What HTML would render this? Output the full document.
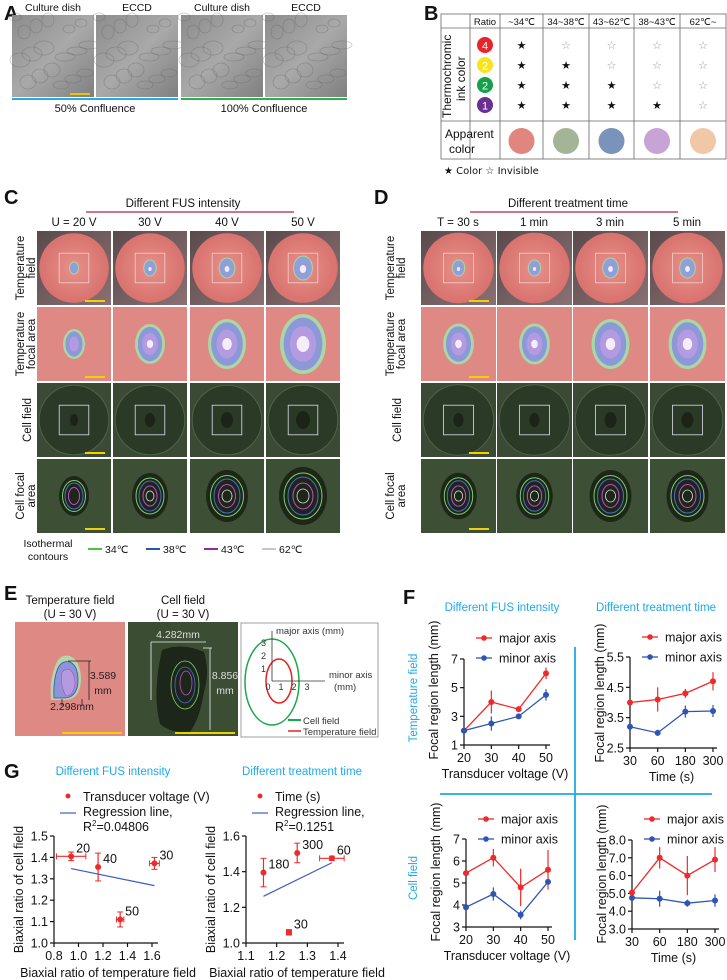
<!DOCTYPE html>
<html><head><meta charset="utf-8"><style>
body{margin:0;background:#fff;}
svg{display:block;font-family:"Liberation Sans",Arial,sans-serif;}
</style></head><body>
<svg id="fig" width="727" height="980" viewBox="0 0 727 980" xmlns="http://www.w3.org/2000/svg">
<defs>
<radialGradient id="dishT" cx="50%" cy="50%" r="50%"><stop offset="0" stop-color="#e8908a"/><stop offset="1" stop-color="#d8726e"/></radialGradient>
<linearGradient id="bgT" x1="0" y1="0" x2="1" y2="1"><stop offset="0" stop-color="#5a4a4c"/><stop offset="1" stop-color="#8a7072"/></linearGradient>
<linearGradient id="micro" x1="0" y1="0" x2="1" y2="1"><stop offset="0" stop-color="#8c8c8c"/><stop offset="0.5" stop-color="#a9a9a9"/><stop offset="1" stop-color="#7f7f7f"/></linearGradient>
</defs>
<g id="root"></g>
</svg>
<script>
const NS='http://www.w3.org/2000/svg';
const root=document.getElementById('root');
function el(tag,attrs,parent){const e=document.createElementNS(NS,tag);for(const k in attrs)e.setAttribute(k,attrs[k]);(parent||root).appendChild(e);return e;}
function tx(x,y,s,size,opts,parent){const o=Object.assign({x:x,y:y,'font-size':size,fill:'#111'},opts||{});const t=el('text',o,parent);t.textContent=s;return t;}
function lbl(x,y,s){const t=tx(x,y,s,20,{'font-weight':'bold'});

}
lbl(4,20,'A');lbl(424,20,'B');lbl(4,204,'C');lbl(374,204,'D');lbl(4,600,'E');lbl(403,604,'F');lbl(4,778,'G');

// ===== Panel A
const aTitles=['Culture dish','ECCD','Culture dish','ECCD'];
const aX=[12,96,181,265];
aTitles.forEach((s,i)=>{
const r=el('rect',{x:aX[i],y:15,width:82,height:82,fill:'url(#micro)'});


for(let k=0;k<18;k++){el('ellipse',{cx:aX[i]+((k*37)%78)+3,cy:17+((k*53)%78),rx:6+(k%3)*2,ry:4+(k%2)*3,fill:'none',stroke:'#5f5f5f','stroke-width':0.8,opacity:0.35});}
const t=tx(aX[i]+41,11,s,10.5,{'text-anchor':'middle'});


});
el('line',{x1:70,y1:94,x2:90,y2:94,stroke:'#e8c21c','stroke-width':2});
let ln=el('line',{x1:12,y1:99,x2:178,y2:99,stroke:'#27a9e1','stroke-width':2});


ln=el('line',{x1:181,y1:99,x2:347,y2:99,stroke:'#2bb34b','stroke-width':2});


let t0=tx(95,112,'50% Confluence',11,{'text-anchor':'middle'});


t0=tx(264,112,'100% Confluence',11,{'text-anchor':'middle'});



// ===== Panel B table
const bCols=[441,470,500,543,589,634,680,726];
const bHeads=['Ratio','~34℃','34~38℃','43~62℃','38~43℃','62℃~'];
const tb=el('g',{});


el('rect',{x:441,y:14,width:285,height:145,fill:'none',stroke:'#666','stroke-width':0.8},tb);
el('line',{x1:441,y1:28,x2:726,y2:28,stroke:'#666','stroke-width':0.8},tb);
el('line',{x1:441,y1:121,x2:726,y2:121,stroke:'#666','stroke-width':0.8},tb);
bCols.slice(1,-1).forEach(x=>el('line',{x1:x,y1:14,x2:x,y2:159,stroke:'#666','stroke-width':0.8},tb));
bHeads.forEach((h,i)=>{const t=tx((bCols[i+1]+bCols[i+2])/2,25,h,9.5,{'text-anchor':'middle'},tb);

});
const inkColors=['#e8232a','#f7e419','#16a04a','#6a2f91'];
const inkNums=['4','2','2','1'];
const starRows=[[1,0,0,0,0],[1,1,0,0,0],[1,1,1,0,0],[1,1,1,1,0]];
inkColors.forEach((c,r)=>{const y=45+r*20;
const ci=el('circle',{cx:485,cy:y,r:8,fill:c},tb);


tx(485,y+4.5,inkNums[r],11,{'text-anchor':'middle',fill:'#fff'},tb);
starRows[r].forEach((s,k)=>{const t=tx((bCols[k+2]+bCols[k+3])/2,y+4,s?'★':'☆',11,{'text-anchor':'middle',fill:s?'#111':'#999',"font-family":"DejaVu Sans"},tb);

});
});
const ty=tx(0,0,'Thermochromic',12,{transform:'translate(451,118) rotate(-90)'},tb);


tx(0,0,'ink color',12,{transform:'translate(465,101) rotate(-90)'},tb);
tx(445,138,'Apparent',12,{},tb);tx(449,153,'color',12,{},tb);
const appCols=['#e0867f','#a4b597','#7a93ba','#c8a3d6','#f0c8a8'];
appCols.forEach((c,k)=>{const ci=el('circle',{cx:(bCols[k+2]+bCols[k+3])/2,cy:141,r:13,fill:c},tb);

});
let lg=tx(444,174,'★ Color  ☆ Invisible',10,{"font-family":"DejaVu Sans"});



// ===== Panels C & D image grids
function photo(x,y,w,h,row,level,blob){
const g=el('g',{});


const cx=x+w/2, cy=y+h/2;
if(row===0){el('rect',{x:x,y:y,width:w,height:h,fill:'url(#bgT)'},g);
el('circle',{cx:cx,cy:cy,r:w*0.47,fill:'url(#dishT)'},g);
el('rect',{x:cx-w*0.2,y:cy-h*0.2,width:w*0.4,height:h*0.4,fill:'none',stroke:'#f2d0cc','stroke-width':0.8},g);
el('ellipse',{cx:cx,cy:cy,rx:3+level*1.6,ry:4+level*2,fill:'#8fa0d8',stroke:'#a8d8a0','stroke-width':1},g);
if(level>1)el('ellipse',{cx:cx,cy:cy+1,rx:level*0.8,ry:level,fill:'#f2eaf6'},g);}
else if(row===1){el('rect',{x:x,y:y,width:w,height:h,fill:'#df8985'},g);
const s=blob;el('ellipse',{cx:cx,cy:cy,rx:7+s*4,ry:10+s*5,fill:'#a9d7a5'},g);
el('ellipse',{cx:cx,cy:cy,rx:5+s*3.6,ry:8+s*4.6,fill:'#8d98d8'},g);
el('ellipse',{cx:cx,cy:cy,rx:2+s*2.8,ry:4+s*3.5,fill:'#b49ae0'},g);
if(s>1)el('ellipse',{cx:cx,cy:cy,rx:s*1.6,ry:s*2,fill:'#f5eef8'},g);}
else if(row===2){el('rect',{x:x,y:y,width:w,height:h,fill:'#3a4a34'},g);
el('circle',{cx:cx,cy:cy,r:w*0.47,fill:'#2b3a27',stroke:'#4f6248','stroke-width':1},g);
el('rect',{x:cx-w*0.2,y:cy-h*0.2,width:w*0.4,height:h*0.4,fill:'none',stroke:'#dde','stroke-width':0.8},g);
el('ellipse',{cx:cx,cy:cy,rx:3+level,ry:5+level,fill:'#1c2418'},g);}
else{el('rect',{x:x,y:y,width:w,height:h,fill:'#3d5036'},g);
const s=blob;el('ellipse',{cx:cx,cy:cy,rx:12+s*3,ry:17+s*3,fill:'#1d2619'},g);
el('ellipse',{cx:cx,cy:cy,rx:9+s*2.5,ry:13+s*2.5,fill:'none',stroke:'#7ad06a','stroke-width':1},g);
el('ellipse',{cx:cx,cy:cy,rx:7+s*2,ry:11+s*2,fill:'none',stroke:'#4e6cc8','stroke-width':1},g);
el('ellipse',{cx:cx,cy:cy,rx:4+s*1.5,ry:7+s*1.5,fill:'none',stroke:'#c04ed0','stroke-width':1},g);
if(s>1)el('ellipse',{cx:cx,cy:cy,rx:2+s,ry:3+s,fill:'none',stroke:'#ddd','stroke-width':0.8},g);}
}
const rowY=[231,307,383,459];
const cX=[37,113,190,266], dX=[421,497,573,650];
const cLevels=[1,2,3,4], dLevels=[2,2,3,3];
for(let r=0;r<4;r++){for(let i=0;i<4;i++){photo(cX[i],rowY[r],74,74,r,cLevels[i],cLevels[i]);photo(dX[i],rowY[r],75,74,r,dLevels[i],dLevels[i]*0.9+0.3);}
el('line',{x1:cX[0]+48,y1:rowY[r]+70,x2:cX[0]+68,y2:rowY[r]+70,stroke:'#f0d000','stroke-width':2});
el('line',{x1:dX[0]+48,y1:rowY[r]+70,x2:dX[0]+68,y2:rowY[r]+70,stroke:'#f0d000','stroke-width':2});}
let h1=tx(183,207,'Different FUS intensity',11.5,{'text-anchor':'middle'});


el('line',{x1:86,y1:212,x2:294,y2:212,stroke:'#b51f5b','stroke-width':1.2});
h1=tx(568,207,'Different treatment time',11.5,{'text-anchor':'middle'});


el('line',{x1:470,y1:212,x2:678,y2:212,stroke:'#b51f5b','stroke-width':1.2});
const cHead=['U = 20 V','30 V','40 V','50 V'], dHead=['T = 30 s','1 min','3 min','5 min'];
cHead.forEach((s,i)=>{const t=tx(cX[i]+37,226,s,11.5,{'text-anchor':'middle'});

});
dHead.forEach((s,i)=>{const t=tx(dX[i]+37,226,s,11.5,{'text-anchor':'middle'});

});
const rowLab=[['Temperature','field'],['Temperature','focal area'],['Cell field',''],['Cell focal','area']];
[[20,33],[390,403]].forEach(([x1,x2])=>{rowLab.forEach((p,r)=>{const cy=rowY[r]+37;
const t=tx(0,0,p[0],11.5,{'text-anchor':'middle',transform:`translate(${p[1]?x1+4:x2-2},${cy}) rotate(-90)`});


if(p[1])tx(0,0,p[1],11.5,{'text-anchor':'middle',transform:`translate(${x2+2},${cy}) rotate(-90)`});});});
tx(48,547,'Isothermal',10.5,{'text-anchor':'middle'});tx(48,560,'contours',10.5,{'text-anchor':'middle'});
const isoC=['#4cc24a','#2359a8','#8a2ea0','#c8c8c8'], isoL=['34℃','38℃','43℃','62℃'];
isoC.forEach((c,i)=>{const x=88+i*58;
const l=el('line',{x1:x,y1:549,x2:x+14,y2:549,stroke:c,'stroke-width':2});


tx(x+17,553,isoL[i],10.5);});

// ===== Panel E
tx(70,604,'Temperature field',11.5,{'text-anchor':'middle'});tx(70,618,'(U = 30 V)',11.5,{'text-anchor':'middle'});
tx(183,604,'Cell field',11.5,{'text-anchor':'middle'});tx(183,618,'(U = 30 V)',11.5,{'text-anchor':'middle'});
let ge=el('g',{});


el('rect',{x:15,y:622,width:110,height:114,fill:'#df8985'},ge);
el('path',{d:'M56,664 q4,-10 14,-8 q10,4 11,22 q0,20 -14,22 l-16,0 q-2,-20 5,-36z',fill:'#b5d7a8'},ge);
el('path',{d:'M58,668 q4,-8 12,-6 q8,4 8,18 q0,16 -12,18 l-12,0 q-1,-18 4,-30z',fill:'#8e94d8',stroke:'#3a4fb0','stroke-width':0.8},ge);
el('path',{d:'M62,672 q4,-4 8,-2 q5,4 5,14 q-2,12 -9,12 q-6,-10 -4,-24z',fill:'#b49ae0',stroke:'#b44ac0','stroke-width':0.6},ge);
el('line',{x1:68,y1:661,x2:91,y2:661,stroke:'#222','stroke-width':0.8});el('line',{x1:89,y1:661,x2:89,y2:700,stroke:'#222','stroke-width':0.8});
tx(103,679,'3.589',10.5,{'text-anchor':'middle',fill:'#222'});tx(103,694,'mm',10.5,{'text-anchor':'middle',fill:'#222'});
tx(72,710,'2.298mm',10.5,{'text-anchor':'middle',fill:'#222'});
el('line',{x1:62,y1:699,x2:62,y2:706,stroke:'#222','stroke-width':0.8});el('line',{x1:82,y1:699,x2:82,y2:706,stroke:'#222','stroke-width':0.8});
el('line',{x1:62,y1:733,x2:122,y2:733,stroke:'#f0d000','stroke-width':2});
ge=el('g',{});


el('rect',{x:128,y:622,width:110,height:114,fill:'#3b4e34'},ge);
el('path',{d:'M162,650 q20,-8 42,2 q6,20 0,40 q-4,26 -14,40 q-18,2 -30,-8 q-8,-30 2,-74z',fill:'#1c2619'},ge);
el('ellipse',{cx:185,cy:685,rx:14,ry:24,fill:'none',stroke:'#7ad06a','stroke-width':0.8},ge);
el('ellipse',{cx:185,cy:685,rx:10,ry:18,fill:'none',stroke:'#4e6cc8','stroke-width':0.8},ge);
el('ellipse',{cx:186,cy:683,rx:6,ry:12,fill:'none',stroke:'#c04ed0','stroke-width':0.8},ge);
el('line',{x1:151,y1:642,x2:206,y2:642,stroke:'#eee','stroke-width':0.8});el('line',{x1:151,y1:642,x2:151,y2:700,stroke:'#eee','stroke-width':0.8});
el('line',{x1:203,y1:648,x2:212,y2:648,stroke:'#eee','stroke-width':0.8});el('line',{x1:210,y1:648,x2:210,y2:730,stroke:'#eee','stroke-width':0.8});
tx(178,638,'4.282mm',10.5,{'text-anchor':'middle',fill:'#ddd'});
tx(225,679,'8.856',10.5,{'text-anchor':'middle',fill:'#ddd'});tx(225,694,'mm',10.5,{'text-anchor':'middle',fill:'#ddd'});
el('line',{x1:175,y1:733,x2:235,y2:733,stroke:'#f0d000','stroke-width':2});
ge=el('g',{});


el('rect',{x:241,y:623,width:137,height:114,fill:'#fff',stroke:'#888','stroke-width':0.8},ge);
el('ellipse',{cx:272,cy:682,rx:27,ry:43,fill:'none',stroke:'#1aa84a','stroke-width':1.5},ge);
el('ellipse',{cx:279,cy:681,rx:13,ry:22,fill:'none',stroke:'#e82020','stroke-width':1.5},ge);
el('line',{x1:272,y1:681,x2:325,y2:681,stroke:'#333','stroke-width':0.8},ge);el('line',{x1:272,y1:681,x2:272,y2:631,stroke:'#333','stroke-width':0.8},ge);
tx(276,634,'major axis (mm)',9.5,{fill:'#333'},ge);
tx(329,678,'minor axis',9.5,{fill:'#333'},ge);tx(334,690,'(mm)',9.5,{fill:'#333'},ge);
['0','1','2','3'].forEach((s,i)=>{tx(268+i*13,690,s,9,{'text-anchor':'middle',fill:'#333'},ge);if(i>0)tx(266,681-i*13+4,s,9,{'text-anchor':'end',fill:'#333'},ge);});
el('line',{x1:288,y1:720,x2:301,y2:720,stroke:'#1aa84a','stroke-width':2},ge);tx(303,724,'Cell field',9.5,{fill:'#333'},ge);
el('line',{x1:288,y1:731,x2:301,y2:731,stroke:'#e82020','stroke-width':1.5},ge);tx(303,735,'Temperature field',9.5,{fill:'#333'},ge);
</script>

<script>
// ===== Panel F data
const fVoltCats=['20','30','40','50'];
const fTimeCats=['30','60','180','300'];
const tVoltMajor=[2.0,4.0,3.5,6.0];
const tVoltMajorErr=[0.1,0.8,0.1,0.4];
const tVoltMinor=[2.0,2.5,3.0,4.5];
const tVoltMinorErr=[0.1,0.5,0.1,0.4];
const tTimeMajor=[4.0,4.1,4.3,4.7];
const tTimeMajorErr=[0.05,0.4,0.15,0.3];
const tTimeMinor=[3.2,3.0,3.7,3.72];
const tTimeMinorErr=[0.05,0.1,0.2,0.2];
const cVoltMajor=[5.45,6.15,4.8,5.6];
const cVoltMajorErr=[0.1,0.4,0.85,0.9];
const cVoltMinor=[3.9,4.5,3.55,5.05];
const cVoltMinorErr=[0.1,0.3,0.2,0.1];
const cTimeMajor=[5.05,7.0,6.0,6.9];
const cTimeMajorErr=[0.1,0.6,1.1,0.7];
const cTimeMinor=[4.75,4.7,4.45,4.6];
const cTimeMinorErr=[0.1,0.45,0.2,0.35];
const tVoltTicks=[1,3,5,7], tVoltTickLabels=['1','3','5','7'];
const tTimeTicks=[2.5,3.5,4.5,5.5], tTimeTickLabels=['2.5','3.5','4.5','5.5'];
const cVoltTicks=[3,4,5,6,7], cVoltTickLabels=['3','4','5','6','7'];
const cTimeTicks=[3,4,5,6,7,8], cTimeTickLabels=['3.0','4.0','5.0','6.0','7.0','8.0'];
// ===== Panel G data
const gVoltLabels=['20','40','30','50'];
const gVoltX=[0.94,1.16,1.62,1.34];
const gVoltXErr=[0.12,0.0,0.04,0.03];
const gVoltY=[1.405,1.355,1.372,1.11];
const gVoltYErr=[0.02,0.065,0.028,0.035];
const gVoltReg=[[0.94,1.348],[1.62,1.268]];
const gVoltTicksX=[0.8,1.0,1.2,1.4,1.6], gVoltTickLabelsX=['0.8','1.0','1.2','1.4','1.6'];
const gVoltTicksY=[1.0,1.1,1.2,1.3,1.4,1.5], gVoltTickLabelsY=['1.0','1.1','1.2','1.3','1.4','1.5'];
const gTimeLabels=['180','300','60','30'];
const gTimeX=[1.157,1.267,1.38,1.24];
const gTimeXErr=[0.0,0.0,0.04,0.008];
const gTimeY=[1.395,1.505,1.475,1.06];
const gTimeYErr=[0.08,0.055,0.012,0.015];
const gTimeReg=[[1.157,1.262],[1.38,1.45]];
const gTimeTicksX=[1.1,1.2,1.3,1.4], gTimeTickLabelsX=['1.1','1.2','1.3','1.4'];
const gTimeTicksY=[1.0,1.2,1.4,1.6], gTimeTickLabelsY=['1.0','1.2','1.4','1.6'];

const RED='#ee2a2a', BLUE='#2e55b4', CYAN='#1ea9e8';
function lineChart(name,cats,maj,majE,mnr,mnrE,ticks,tlabels,x0,x1,y0,y1,xTitle,legY){
const g=el('g',{});


const vmin=ticks[0],vmax=ticks[ticks.length-1];
const sy=v=>y1-(v-vmin)/(vmax-vmin)*(y1-y0);
const sx=i=>x0+i*(x1-x0)/(cats.length-1);
el('line',{x1:x0,y1:y0,x2:x0,y2:y1,stroke:'#111','stroke-width':1.2},g);
el('line',{x1:x0,y1:y1,x2:x1+4,y2:y1,stroke:'#111','stroke-width':1.2},g);
ticks.forEach((v,i)=>{el('line',{x1:x0-4,y1:sy(v),x2:x0,y2:sy(v),stroke:'#111','stroke-width':1.2},g);
const t=tx(x0-6,sy(v)+4.5,tlabels[i],12.5,{'text-anchor':'end'},g);

});
cats.forEach((c,i)=>{el('line',{x1:sx(i),y1:y1,x2:sx(i),y2:y1+4,stroke:'#111','stroke-width':1.2},g);
const t=tx(sx(i),y1+17,c,12.5,{'text-anchor':'middle'},g);

});
const xt=tx((x0+x1)/2,y1+33,xTitle,12.5,{'text-anchor':'middle'},g);


const yt=tx(0,0,'Focal region length (mm)',12.5,{'text-anchor':'middle',transform:`translate(${x0-26},${y1-55}) rotate(-90)`},g);


[[maj,majE,RED,'major'],[mnr,mnrE,BLUE,'minor']].forEach(([vals,errs,col,nm])=>{
const pts=vals.map((v,i)=>sx(i)+','+sy(v)).join(' ');
const pl=el('polyline',{points:pts,fill:'none',stroke:col,'stroke-width':1.3},g);


vals.forEach((v,i)=>{el('line',{x1:sx(i),y1:sy(v-errs[i]),x2:sx(i),y2:sy(v+errs[i]),stroke:col,'stroke-width':1.2},g);
const p=el('circle',{cx:sx(i),cy:sy(v),r:3,fill:col},g);

});
});
const lx=x0+12;
[[RED,'major axis',legY],[BLUE,'minor axis',legY+20]].forEach(([c,s,y])=>{
const l=el('line',{x1:lx,y1:y,x2:lx+16,y2:y,stroke:c,'stroke-width':1.3},g);


el('circle',{cx:lx+8,cy:y,r:2.8,fill:c},g);
const t=tx(lx+23,y+4.5,s,12.5,{},g);

});
}
let ft=tx(502,611,'Different FUS intensity',11.5,{'text-anchor':'middle',fill:CYAN});


ft=tx(656,611,'Different treatment time',11.5,{'text-anchor':'middle',fill:CYAN});


lineChart('f-temp-voltage-chart',fVoltCats,tVoltMajor,tVoltMajorErr,tVoltMinor,tVoltMinorErr,tVoltTicks,tVoltTickLabels,464,546,659,745,'Transducer voltage (V)',638);
lineChart('f-temp-time-chart',fTimeCats,tTimeMajor,tTimeMajorErr,tTimeMinor,tTimeMinorErr,tTimeTicks,tTimeTickLabels,630,713,657,748,'Time (s)',637);
lineChart('f-cell-voltage-chart',fVoltCats,cVoltMajor,cVoltMajorErr,cVoltMinor,cVoltMinorErr,cVoltTicks,cVoltTickLabels,466,548,839,927,'Transducer voltage (V)',819);
lineChart('f-cell-time-chart',fTimeCats,cTimeMajor,cTimeMajorErr,cTimeMinor,cTimeMinorErr,cTimeTicks,cTimeTickLabels,632,715,840,929,'Time (s)',819);
let dv=el('line',{x1:575,y1:647,x2:575,y2:940,stroke:CYAN,'stroke-width':1.8});


dv=el('line',{x1:440,y1:794,x2:712,y2:794,stroke:CYAN,'stroke-width':1.8});


ft=tx(0,0,'Temperature field',11.5,{'text-anchor':'middle',fill:CYAN,transform:'translate(417,698) rotate(-90)'});


ft=tx(0,0,'Cell field',11.5,{'text-anchor':'middle',fill:CYAN,transform:'translate(417,878) rotate(-90)'});



function scatter(name,labels,xs,xe,ys,ye,reg,tX,tXL,tY,tYL,x0,x1,y0,y1,title,legText,r2,legX){
const g=el('g',{});


const sx=v=>x0+(v-tX[0])/(tX[tX.length-1]-tX[0])*(x1-x0);
const sy=v=>y1-(v-tY[0])/(tY[tY.length-1]-tY[0])*(y1-y0);
const tt=tx((x0+x1)/2+10,y0-61,title,11.5,{'text-anchor':'middle',fill:CYAN},g);


el('line',{x1:x0,y1:y0,x2:x0,y2:y1,stroke:'#111','stroke-width':1.2},g);
el('line',{x1:x0,y1:y1,x2:x1+6,y2:y1,stroke:'#111','stroke-width':1.2},g);
tY.forEach((v,i)=>{el('line',{x1:x0-4,y1:sy(v),x2:x0,y2:sy(v),stroke:'#111','stroke-width':1.2},g);
const t=tx(x0-6,sy(v)+4.5,tYL[i],12.5,{'text-anchor':'end'},g);

});
tX.forEach((v,i)=>{el('line',{x1:sx(v),y1:y1,x2:sx(v),y2:y1+4,stroke:'#111','stroke-width':1.2},g);
const t=tx(sx(v),y1+17,tXL[i],12.5,{'text-anchor':'middle'},g);

});
const xt=tx((x0+x1)/2+5,y1+34,'Biaxial ratio of temperature field',12.5,{'text-anchor':'middle'},g);


const yt=tx(0,0,'Biaxial ratio of cell field',12.5,{'text-anchor':'middle',transform:`translate(${x0-31},${(y0+y1)/2}) rotate(-90)`},g);


const rl=el('line',{x1:sx(reg[0][0]),y1:sy(reg[0][1]),x2:sx(reg[1][0]),y2:sy(reg[1][1]),stroke:'#3a5cc0','stroke-width':1.2},g);


xs.forEach((v,i)=>{
el('line',{x1:sx(v-xe[i]),y1:sy(ys[i]),x2:sx(v+xe[i]),y2:sy(ys[i]),stroke:RED,'stroke-width':1.2},g);
el('line',{x1:sx(v),y1:sy(ys[i]-ye[i]),x2:sx(v),y2:sy(ys[i]+ye[i]),stroke:RED,'stroke-width':1.2},g);
if(xe[i]>0.005){el('line',{x1:sx(v-xe[i]),y1:sy(ys[i])-3,x2:sx(v-xe[i]),y2:sy(ys[i])+3,stroke:RED},g);el('line',{x1:sx(v+xe[i]),y1:sy(ys[i])-3,x2:sx(v+xe[i]),y2:sy(ys[i])+3,stroke:RED},g);}
if(ye[i]>0.005){el('line',{x1:sx(v)-3,y1:sy(ys[i]-ye[i]),x2:sx(v)+3,y2:sy(ys[i]-ye[i]),stroke:RED},g);el('line',{x1:sx(v)-3,y1:sy(ys[i]+ye[i]),x2:sx(v)+3,y2:sy(ys[i]+ye[i]),stroke:RED},g);}
const p=el('circle',{cx:sx(v),cy:sy(ys[i]),r:3,fill:RED},g);


const t=tx(sx(v)+5,sy(ys[i])-4,labels[i],12.5,{},g);

});
const ld=el('circle',{cx:legX,cy:y0-40,r:2.5,fill:RED},g);


tx(legX+15,y0-35,legText,12.5,{},g);
const ll=el('line',{x1:legX-8,y1:y0-23,x2:legX+8,y2:y0-23,stroke:'#3a5cc0','stroke-width':1.2},g);


tx(legX+15,y0-20,'Regression line,',12.5,{},g);
const r=tx(legX+15,y0-5,'R',12.5,{},g);
const sup=el('tspan',{dy:-5,'font-size':8},r);sup.textContent='2';
const rest=el('tspan',{dy:5},r);rest.textContent='='+r2;
}
scatter('g-fus-scatter',gVoltLabels,gVoltX,gVoltXErr,gVoltY,gVoltYErr,gVoltReg,gVoltTicksX,gVoltTickLabelsX,gVoltTicksY,gVoltTickLabelsY,54,152,836,943,'Different FUS intensity','Transducer voltage (V)','0.04806',68);
scatter('g-time-scatter',gTimeLabels,gTimeX,gTimeXErr,gTimeY,gTimeYErr,gTimeReg,gTimeTicksX,gTimeTickLabelsX,gTimeTicksY,gTimeTickLabelsY,246,338,836,943,'Different treatment time','Time (s)','0.1251',260);
</script>
</body></html>
